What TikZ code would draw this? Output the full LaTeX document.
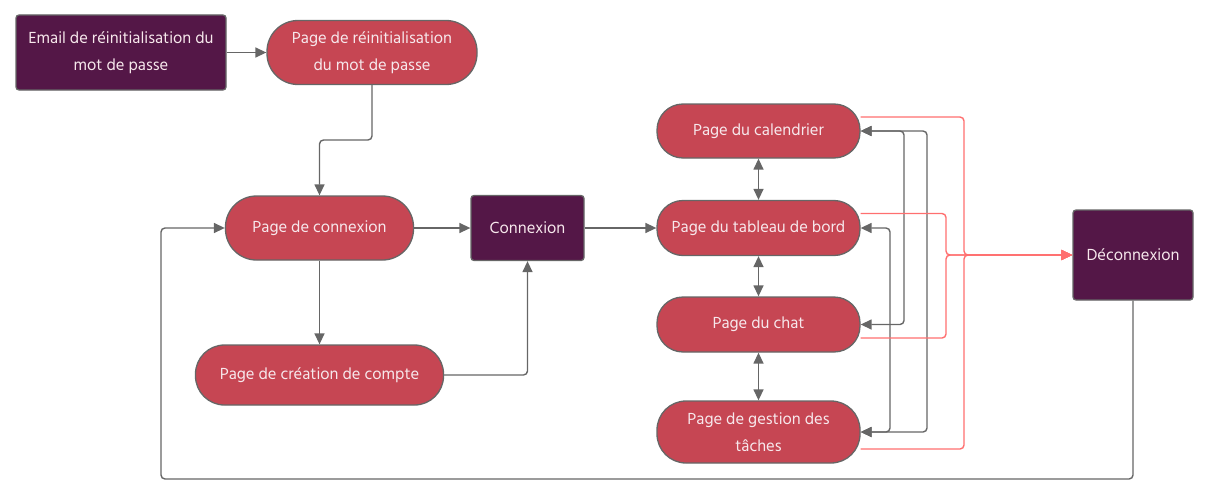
\documentclass[tikz,border=0pt]{standalone}
\usepackage{fontspec}
\setmainfont{Hind Madurai}
\usetikzlibrary{arrows.meta}
\definecolor{pagered}{HTML}{C64653}
\definecolor{plum}{HTML}{541747}
\definecolor{edgegrey}{HTML}{666666}
\definecolor{salmon}{HTML}{FF6F6F}
\definecolor{txt}{HTML}{F7E8EC}
\begin{document}
\begin{tikzpicture}[x=1pt,y=-1pt,
  pagebox/.style={draw=edgegrey, line width=1.3pt, fill=pagered, text=txt, rounded corners=26pt, align=center, inner sep=0pt, font=\fontsize{16.5}{27}\selectfont},
  actbox/.style={draw=edgegrey, line width=1.3pt, fill=plum, text=txt, rounded corners=3pt, align=center, inner sep=0pt, font=\fontsize{16.5}{27}\selectfont},
  conn/.style={draw=edgegrey, line width=1.4pt, -{Triangle[length=11pt,width=10pt]}},
  biconn/.style={draw=edgegrey, line width=1.4pt, {Triangle[length=11pt,width=10pt]}-{Triangle[length=11pt,width=10pt]}},
  redconn/.style={draw=salmon, line width=1.4pt, rounded corners=4pt, -{Triangle[length=11pt,width=10pt]}}
]
\useasboundingbox (0,0) rectangle (1209,495);

\node[actbox, minimum width=210pt, minimum height=75pt] (email) at (121,52.5) {Email de réinitialisation du\\mot de passe};
\node[pagebox, minimum width=210pt, minimum height=64pt, rounded corners=31pt] (reinit) at (372,52.5) {Page de réinitialisation\\du mot de passe};
\node[pagebox, minimum width=188pt, minimum height=64pt, rounded corners=31pt] (pcon) at (319.5,228) {Page de connexion};
\node[actbox, minimum width=113pt, minimum height=65pt] (con) at (527.5,228) {Connexion};
\node[pagebox, minimum width=248pt, minimum height=60pt, rounded corners=29pt] (crea) at (319.5,375) {Page de création de compte};
\node[pagebox, minimum width=203pt, minimum height=54pt] (cal) at (758.5,131) {Page du calendrier};
\node[pagebox, minimum width=203pt, minimum height=55pt] (tab) at (758.5,228) {Page du tableau de bord};
\node[pagebox, minimum width=203pt, minimum height=55pt] (chat) at (758.5,324.5) {Page du chat};
\node[pagebox, minimum width=203pt, minimum height=62pt, rounded corners=29pt] (task) at (758.5,432) {Page de gestion des\\tâches};
\node[actbox, minimum width=120pt, minimum height=90pt] (deco) at (1133,255) {Déconnexion};

\coordinate (j1) at (372,140);
\coordinate (gA) at (890,0);
\coordinate (gB) at (904,0);
\coordinate (gC) at (927,0);
\coordinate (rA) at (946,0);
\coordinate (rB) at (964,0);
\coordinate (lb) at (161,479);

\draw[conn] (email.east) -- (reinit.west);
\draw[conn, rounded corners=4pt] (reinit.south) -- (j1) -| (pcon.north);
\draw[conn] (pcon.east) -- (con.west);
\draw[conn] (pcon.south) -- (crea.north);
\draw[conn, rounded corners=4pt] (crea.east) -| (con.south);
\draw[conn] (con.east) -- (tab.west);
\draw[biconn] (cal.south) -- (tab.north);
\draw[biconn] (tab.south) -- (chat.north);
\draw[biconn] (chat.south) -- (task.north);

\draw[biconn, rounded corners=4pt] (cal.east) -- (cal.east -| gB) -- (chat.east -| gB) -- (chat.east);
\draw[biconn, rounded corners=4pt] (cal.east) -- (cal.east -| gC) -- (task.east -| gC) -- (task.east);
\draw[biconn, rounded corners=4pt] (tab.east) -- (tab.east -| gA) -- (task.east -| gA) -- (task.east);

\draw[redconn] ([yshift=14pt]cal.east) -| (rB |- deco.west) -- (deco.west);
\draw[redconn] ([yshift=-17pt]task.east) -| (rB |- deco.west) -- (deco.west);
\draw[redconn] ([yshift=14.5pt]tab.east) -| (rA |- deco.west) -- (deco.west);
\draw[redconn] ([yshift=-13.5pt]chat.east) -| (rA |- deco.west) -- (deco.west);

\draw[conn, rounded corners=4pt] (deco.south) |- (lb) |- (pcon.west);
\end{tikzpicture}
\end{document}
